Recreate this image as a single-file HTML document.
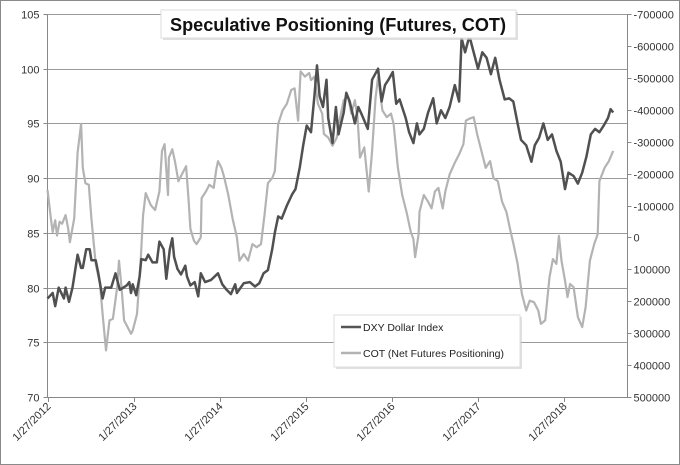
<!DOCTYPE html>
<html><head><meta charset="utf-8"><style>
html,body{margin:0;padding:0;background:#fff;}
svg{display:block;font-family:"Liberation Sans",sans-serif;}
</style></head><body>
<svg id="chart" width="680" height="465" viewBox="0 0 680 465">
<rect x="0.5" y="0.5" width="679" height="464" fill="#fff" stroke="#8a8a8a"/>
<g id="grid"></g><g id="axes"></g><g id="series"></g>
<g>
<rect x="163" y="12" width="355" height="28" fill="#ccc" opacity="0.6"/>
<rect x="161" y="10" width="355" height="28" fill="#fff" stroke="#ddd"/>
<text x="338" y="31" text-anchor="middle" font-size="18" font-weight="bold" fill="#111" textLength="336" lengthAdjust="spacingAndGlyphs">Speculative Positioning (Futures, COT)</text>
</g>
<g>
<rect x="336" y="317" width="186" height="52" fill="#ccc" opacity="0.6"/>
<rect x="334" y="315" width="186" height="52" fill="#fff" stroke="#ddd"/>
<line x1="341" y1="327" x2="361" y2="327" stroke="#555" stroke-width="2.5"/>
<text x="363" y="331" font-size="10.5" fill="#222">DXY Dollar Index</text>
<line x1="341" y1="353" x2="361" y2="353" stroke="#b3b3b3" stroke-width="2.5"/>
<text x="363" y="357" font-size="10.5" fill="#222">COT (Net Futures Positioning)</text>
</g>
</svg>
<script>
// years since 1/27/2012
const dxyDates=[0,.06,.09,.13,.19,.21,.25,.29,.35,.39,.41,.45,.49,.51,.56,.59,.64,.67,.74,.79,.84,.92,.95,.97,.99,1.03,1.07,1.09,1.14,1.17,1.22,1.27,1.30,1.35,1.38,1.42,1.45,1.47,1.51,1.55,1.60,1.62,1.66,1.71,1.75,1.78,1.83,1.90,1.98,2.03,2.08,2.13,2.18,2.20,2.28,2.35,2.41,2.46,2.51,2.56,2.61,2.64,2.68,2.72,2.78,2.84,2.88,2.93,2.97,3.01,3.06,3.10,3.13,3.16,3.20,3.24,3.26,3.31,3.35,3.38,3.44,3.47,3.51,3.57,3.61,3.65,3.72,3.77,3.84,3.88,3.92,3.96,4.01,4.05,4.09,4.16,4.20,4.25,4.29,4.32,4.37,4.42,4.48,4.52,4.57,4.62,4.67,4.73,4.78,4.81,4.85,4.90,4.94,5.00,5.05,5.10,5.15,5.20,5.25,5.31,5.36,5.41,5.46,5.50,5.56,5.62,5.66,5.71,5.76,5.81,5.86,5.91,5.96,6.01,6.05,6.11,6.16,6.21,6.26,6.31,6.36,6.41,6.46,6.51,6.54,6.57];
const dxyValues=[79,79.5,78.3,80,79,80,78.7,80,83,81.8,81.8,83.5,83.5,82.5,82.5,81.3,79,80,80,81.3,79.8,80.2,80.5,79.5,80.3,79.3,81,82.6,82.5,83,82.3,82.3,84.2,83.5,80.8,83.5,84.5,82.8,81.7,81.2,82,81,80.2,80.5,79.2,81.3,80.5,80.7,81.3,80.3,79.8,79.4,80.3,79.5,80.4,80.5,80.1,80.4,81.3,81.6,83.5,85,86.5,86.3,87.5,88.5,89,91,93,94.8,94.2,97.5,100.3,97.5,96.5,99,95.5,93.2,96.5,94,96,97.8,97,95,96.5,95.8,94.5,99,100,97,98.5,99,99.7,96.8,97.2,95.5,94.2,93.2,95,94,94.5,96,97.3,95,96.2,95.5,96.5,98.5,97,102.8,101.5,103,101.8,100,101.5,101,99.5,101,99,97.2,97.3,97,95,93.5,93,91.5,93,93.7,95,93.5,94,92.5,91.5,89,90.5,90.2,89.5,90.5,92,94,94.5,94.2,94.8,95.5,96.3,96];
const cotDates=[0,.04,.06,.09,.11,.14,.17,.21,.24,.26,.31,.35,.39,.41,.44,.48,.51,.56,.61,.64,.68,.72,.76,.81,.83,.86,.89,.93,.97,.99,1.04,1.08,1.11,1.14,1.20,1.25,1.30,1.33,1.36,1.40,1.41,1.45,1.48,1.52,1.56,1.61,1.64,1.66,1.70,1.73,1.78,1.79,1.84,1.88,1.93,1.96,1.98,2.02,2.05,2.10,2.15,2.20,2.23,2.28,2.33,2.38,2.43,2.48,2.52,2.56,2.61,2.64,2.68,2.73,2.78,2.83,2.87,2.91,2.94,2.99,3.04,3.06,3.10,3.14,3.19,3.21,3.26,3.31,3.36,3.40,3.44,3.49,3.53,3.57,3.60,3.63,3.68,3.73,3.77,3.81,3.84,3.89,3.94,3.99,4.02,4.07,4.12,4.17,4.22,4.25,4.27,4.31,4.32,4.37,4.42,4.46,4.50,4.54,4.59,4.62,4.67,4.73,4.78,4.83,4.86,4.90,4.95,4.99,5.04,5.09,5.14,5.18,5.23,5.28,5.33,5.38,5.42,5.46,5.51,5.56,5.60,5.65,5.70,5.73,5.78,5.83,5.87,5.91,5.94,5.97,6.01,6.04,6.07,6.11,6.16,6.21,6.25,6.30,6.35,6.39,6.41,6.47,6.52,6.57];
const cotValues=[-149000,-59000,-17000,-54000,-6000,-49000,-43000,-70000,-27000,15000,-59000,-266000,-356000,-218000,-170000,-165000,-59000,83000,146000,240000,354000,260000,255000,156000,73000,156000,260000,281000,302000,292000,240000,83000,-70000,-139000,-101000,-86000,-144000,-271000,-292000,-133000,-250000,-276000,-239000,-176000,-197000,-223000,-112000,-27000,10000,21000,0,-123000,-144000,-165000,-155000,-213000,-239000,-218000,-191000,-133000,-59000,0,73000,52000,73000,21000,31000,21000,-70000,-170000,-186000,-207000,-356000,-398000,-419000,-462000,-467000,-366000,-520000,-504000,-515000,-493000,-504000,-419000,-388000,-324000,-313000,-287000,-313000,-377000,-430000,-441000,-388000,-430000,-377000,-250000,-282000,-144000,-271000,-435000,-504000,-398000,-377000,-388000,-356000,-218000,-133000,-80000,-17000,5000,62000,-10000,-80000,-133000,-112000,-91000,-144000,-155000,-91000,-144000,-197000,-234000,-260000,-292000,-366000,-372000,-377000,-324000,-271000,-218000,-239000,-186000,-176000,-112000,-80000,-17000,31000,83000,177000,229000,198000,203000,229000,271000,260000,125000,68000,83000,-5000,73000,135000,187000,146000,156000,250000,281000,219000,73000,21000,-10000,-176000,-218000,-239000,-271000];
const leftTicks=[105,100,95,90,85,80,75,70];
const rightTicks=[-700000,-600000,-500000,-400000,-300000,-200000,-100000,0,100000,200000,300000,400000,500000];
const xTickYears=[0,1,2,3,4,5,6];
const xTickLabels=["1/27/2012","1/27/2013","1/27/2014","1/27/2015","1/27/2016","1/27/2017","1/27/2018"];

const NS="http://www.w3.org/2000/svg";
const X0=47.5,X1=627.5,YT=14,YB=397;
const xS=d=>X0+d*86.1;
const yL=v=>YT+(105-v)/35*(YB-YT);
const yR=v=>YT+(v+700000)/1200000*(YB-YT);
function mk(tag,attrs,parent,txt){const e=document.createElementNS(NS,tag);for(const k in attrs)e.setAttribute(k,attrs[k]);if(txt!=null)e.textContent=txt;parent.appendChild(e);return e;}
const grid=document.getElementById('grid'),axes=document.getElementById('axes'),series=document.getElementById('series');
leftTicks.forEach(v=>{
  const y=Math.round(yL(v))+0.5;
  if(v!==70){const g=mk('line',{x1:X0,x2:X1,y1:y,y2:y,stroke:'#9a9a9a','stroke-width':1},grid);
  
  }
  mk('line',{x1:X0-4,x2:X0,y1:y,y2:y,stroke:'#888'},axes);
  const t=mk('text',{x:X0-8,y:y+4,'text-anchor':'end','font-size':11,fill:'#333'},axes,String(v));
  
  
});
rightTicks.forEach(v=>{
  const y=Math.round(yR(v))+0.5;
  mk('line',{x1:X1,x2:X1+4,y1:y,y2:y,stroke:'#888'},axes);
  const t=mk('text',{x:X1+6,y:y+4,'font-size':11,fill:'#333'},axes,String(v));
  
  
});
xTickYears.forEach((d,i)=>{
  const x=Math.round(xS(d))+0.5;
  mk('line',{x1:x,x2:x,y1:YB,y2:YB+5,stroke:'#888'},axes);
  const t=mk('text',{x:x+3,y:YB+10,'text-anchor':'end','font-size':11,fill:'#333',transform:`rotate(-45 ${x+3} ${YB+10})`},axes,xTickLabels[i]);
  
  
});
const la=mk('line',{x1:X0,x2:X0,y1:YT,y2:YB,stroke:'#888'},axes);


const ra=mk('line',{x1:X1,x2:X1,y1:YT,y2:YB,stroke:'#888'},axes);


const ba=mk('line',{x1:X0,x2:X1,y1:YB+0.5,y2:YB+0.5,stroke:'#888'},axes);


const cot=mk('polyline',{points:cotDates.map((d,i)=>xS(d).toFixed(1)+','+yR(cotValues[i]).toFixed(1)).join(' '),fill:'none',stroke:'#b3b3b3','stroke-width':2.2,'stroke-linejoin':'round'},series);


const dxy=mk('polyline',{points:dxyDates.map((d,i)=>xS(d).toFixed(1)+','+yL(dxyValues[i]).toFixed(1)).join(' '),fill:'none',stroke:'#505050','stroke-width':2.5,'stroke-linejoin':'round'},series);


</script>
</body></html>
